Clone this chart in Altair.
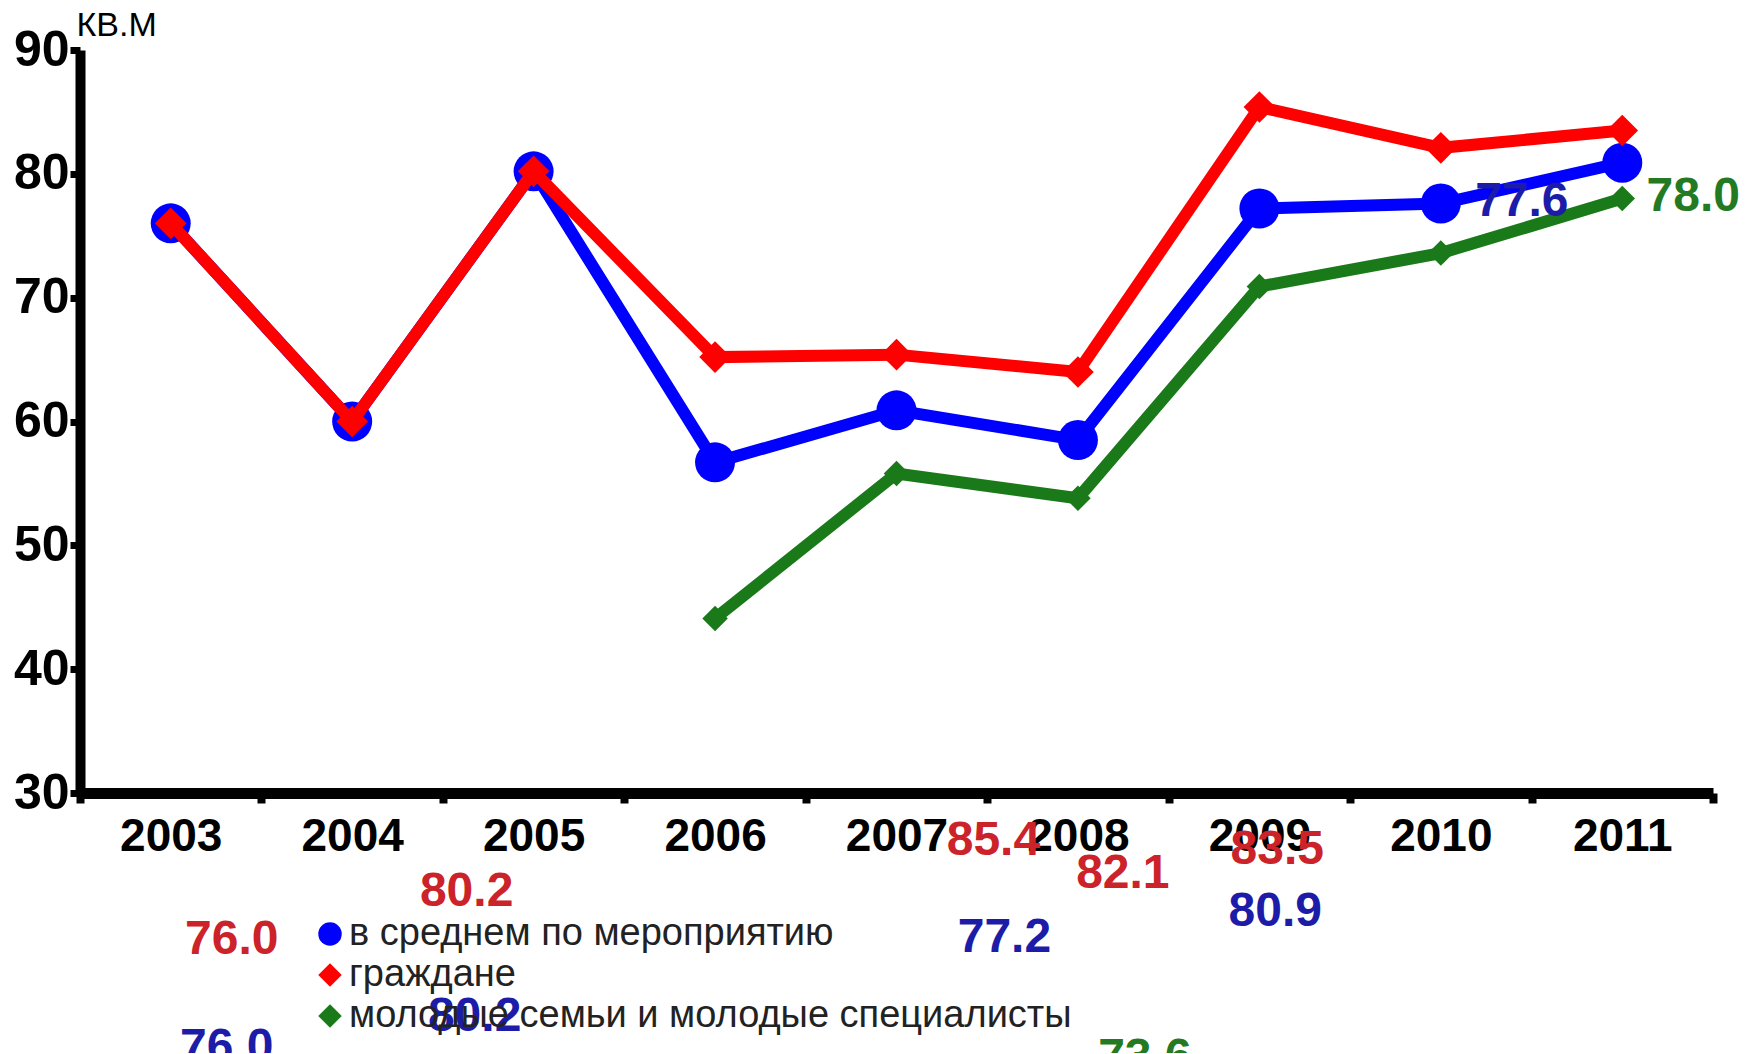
import altair as alt
import pandas as pd

# ---- data ----
years = [2003, 2004, 2005, 2006, 2007, 2008, 2009, 2010, 2011]
series_names = [
    "в среднем по мероприятию",
    "граждане",
    "молодые семьи и молодые специалисты",
]
avg_values = [76.0, 60.0, 80.2, 56.7, 60.9, 58.5, 77.2, 77.6, 80.9]
citizen_values = [76.0, 60.0, 80.2, 65.2, 65.4, 64.0, 85.4, 82.1, 83.5]
young_values = [None, None, None, 44.1, 55.8, 53.8, 70.9, 73.6, 78.0]
y_ticks = [30, 40, 50, 60, 70, 80, 90]
y_title = "КВ.М"

# ---- styles ----
line_colors = ["#0000ff", "#ff0000", "#1a7a1a"]
label_colors = ["#1c1ca8", "#cc2229", "#237a23"]
point_shapes = ["circle", "diamond", "diamond"]
point_sizes = [1600, 1000, 650]
draw_order = [0, 1, 2]

# data labels (series index, year) and their pixel offsets (the reference's labels are displaced)
label_series = [1, 1, 1, 1, 1, 0, 0, 0, 0, 0, 2, 2]
label_years = [2003, 2005, 2009, 2010, 2011, 2003, 2005, 2009, 2010, 2011, 2010, 2011]
label_dx = [61, -67, -266, -318, -345, 56, -59, -255, 81, -347, -296, 71]
label_dy = [717, 721, 734, 726, 720, 825, 846, 729, -2, 749, 805, -2]

FONT = "Liberation Sans"

rows = []
for name, vals in zip(series_names, [avg_values, citizen_values, young_values]):
    for yr, v in zip(years, vals):
        if v is not None:
            rows.append({"series": name, "year": yr, "value": v})
df = pd.DataFrame(rows)

x_enc = alt.X(
    "year:O",
    scale=alt.Scale(type="band", paddingInner=0, paddingOuter=0),
    axis=alt.Axis(
        title=None, labelAngle=0, tickBand="extent", grid=False,
        domainWidth=11, domainColor="black", tickSize=10, tickWidth=8, tickColor="black",
        labelFont=FONT, labelFontSize=46, labelFontWeight="bold", labelColor="black",
        labelPadding=11,
    ),
)
y_enc = alt.Y(
    "value:Q",
    scale=alt.Scale(domain=[30, 90], nice=False, zero=False),
    axis=alt.Axis(
        values=y_ticks, grid=False, title=y_title, titleAngle=0, titleX=-4, titleY=-15,
        titleAlign="left", titleBaseline="alphabetic", titleFont=FONT, titleFontSize=34,
        titleFontWeight="normal", titleColor="black",
        domainWidth=10, domainColor="black", tickSize=10, tickWidth=7, tickColor="black",
        labelFont=FONT, labelFontSize=50, labelFontWeight="bold", labelColor="black",
        labelPadding=1,
    ),
)

legend = alt.Legend(
    title=None, orient="none", legendX=231, legendY=865, padding=0,
    labelFont=FONT, labelFontSize=38, labelColor="#222222", labelLimit=0,
    symbolSize=550, symbolStrokeWidth=0, rowPadding=3, labelOffset=0,
)
color_scale = alt.Scale(domain=series_names, range=line_colors)
shape_scale = alt.Scale(domain=series_names, range=point_shapes)

base = alt.Chart(df)
layers = []
for i in draw_order:
    name = series_names[i]
    sub = base.transform_filter(alt.datum.series == name)
    layers.append(
        sub.mark_line(strokeWidth=12, color=line_colors[i]).encode(x=x_enc, y=y_enc)
    )
    layers.append(
        sub.mark_point(filled=True, opacity=1, size=point_sizes[i]).encode(
            x=x_enc, y=y_enc,
            color=alt.Color("series:N", scale=color_scale, legend=legend),
            shape=alt.Shape("series:N", scale=shape_scale, legend=legend),
        )
    )

for si, yr, dx, dy in zip(label_series, label_years, label_dx, label_dy):
    name = series_names[si]
    layers.append(
        base.transform_filter((alt.datum.series == name) & (alt.datum.year == yr))
        .mark_text(dx=dx, dy=dy, font=FONT, fontSize=48, fontWeight="bold",
                   color=label_colors[si], align="center", baseline="middle")
        .encode(x=x_enc, y=y_enc, text=alt.Text("value:Q", format=".1f"))
    )

chart = (
    alt.layer(*layers)
    .properties(
        width=1633, height=743,
        autosize=alt.AutoSizeParams(type="none"),
        padding={"left": 72, "top": 42, "right": 31, "bottom": 260},
        background="white",
    )
    .configure_view(stroke=None)
)

chart.save("out.html", embed_options={"renderer": "svg", "actions": False})
